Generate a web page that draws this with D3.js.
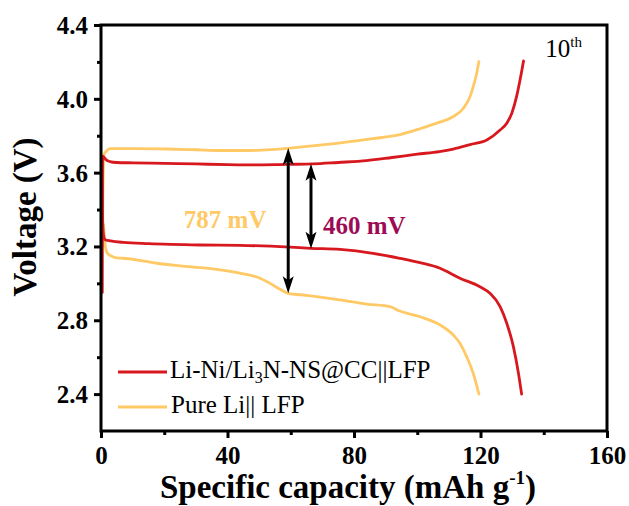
<!DOCTYPE html>
<html>
<head>
<meta charset="utf-8">
<script src="https://cdn.jsdelivr.net/npm/d3@7"></script>
<style>
  html, body { margin: 0; padding: 0; background: #fff; }
  svg { display: block; }
  text { font-family: "Liberation Serif", "Times New Roman", serif; }
</style>
</head>
<body>
<script>
// Galvanostatic charge/discharge profiles, 10th cycle, full cells vs LFP.

// Li-Ni/Li3N-NS@CC || LFP : charge branch (capacity, voltage)
const niChargeCap = [0.4, 0.45, 0.5, 0.9, 1.6, 2.8, 5, 10, 20, 30, 40, 47, 59, 67, 75, 84, 92, 100, 107, 111.4, 116.7, 122, 126.2, 128.3, 129.9, 131.4, 132.5, 133.6];
const niChargeV   = [2.95, 3.40, 3.69, 3.685, 3.67, 3.66, 3.655, 3.653, 3.65, 3.647, 3.643, 3.642, 3.645, 3.647, 3.655, 3.665, 3.682, 3.700, 3.714, 3.728, 3.752, 3.777, 3.831, 3.868, 3.922, 4.012, 4.102, 4.205];
// Li-Ni/Li3N-NS@CC || LFP : discharge branch
const niDischCap = [0.3, 0.6, 1.0, 1.5, 3, 7, 15, 31.3, 44, 59.8, 66.4, 75.6, 86, 94.5, 100.9, 107.2, 113.5, 119.8, 123, 126.2, 128.3, 130.4, 132, 133];
const niDischV   = [3.55, 3.30, 3.245, 3.235, 3.23, 3.222, 3.215, 3.208, 3.206, 3.196, 3.19, 3.184, 3.163, 3.136, 3.112, 3.082, 3.028, 2.982, 2.946, 2.874, 2.784, 2.657, 2.513, 2.40];

// Pure Li || LFP : charge branch
const liChargeCap = [0.5, 0.6, 1.0, 1.6, 2.8, 10, 20.8, 30, 37.6, 47, 54, 59.8, 70, 78.7, 86, 94.5, 100.9, 106.2, 111.4, 114.6, 116.7, 117.7, 118.8, 119.5];
const liChargeV   = [3.20, 3.50, 3.70, 3.714, 3.73, 3.73, 3.728, 3.724, 3.72, 3.72, 3.725, 3.733, 3.75, 3.768, 3.784, 3.806, 3.838, 3.868, 3.904, 3.949, 4.012, 4.066, 4.139, 4.202];
// Pure Li || LFP : discharge branch
const liDischCap = [0.8, 1.3, 1.8, 3, 5, 7, 12, 17.6, 25, 33.4, 43.9, 50.3, 53.4, 56.6, 59.2, 65, 75.6, 84, 91.4, 94.5, 100.9, 107.2, 111.4, 113.5, 115.6, 117.7, 119.5];
const liDischV   = [3.32, 3.21, 3.17, 3.15, 3.138, 3.136, 3.125, 3.109, 3.095, 3.082, 3.055, 3.028, 3.0, 2.968, 2.946, 2.935, 2.91, 2.888, 2.874, 2.85, 2.819, 2.775, 2.72, 2.675, 2.603, 2.513, 2.40];

// Axis ticks
const xMajorTicks = [0, 40, 80, 120, 160];
const xMinorTicks = [20, 60, 100, 140];
const yMajorTicks = [2.4, 2.8, 3.2, 3.6, 4.0, 4.4];
const yMinorTicks = [2.6, 3.0, 3.4, 3.8, 4.2];

// Polarization annotations: capacity, upper voltage, gap (V)
const gapLabels = ["787 mV", "460 mV"];
const gapCap    = [59.2, 66.4];
const gapTopV   = [3.733, 3.648];
const gapSize   = [0.787, 0.460];

const seriesNames = ["Li-Ni/Li3N-NS@CC||LFP", "Pure Li|| LFP"];
const RED = "#D7191F", YEL = "#FFC966";

const W = 629, H = 506;
const m = { left: 101, right: 22, top: 25, bottom: 75 };
const iw = W - m.left - m.right, ih = H - m.top - m.bottom;

const svg = d3.select("body").append("svg").attr("width", W).attr("height", H);
const g = svg.append("g").attr("transform", `translate(${m.left},${m.top})`);

const x = d3.scaleLinear().domain([0, 160]).range([0, iw]);
const y = d3.scaleLinear().domain([2.2, 4.4]).range([ih, 0]);

// Axes: major + minor ticks, pointing outward
function styleAxis(sel) {
  sel.select(".domain").remove();
  sel.selectAll(".tick line").attr("stroke", "#000").attr("stroke-width", 3);
  sel.selectAll(".tick text").attr("fill", "#000")
    .style("font-family", '"Liberation Serif", serif').style("font-weight", "bold").style("font-size", "25px");
}
g.append("g").attr("transform", `translate(0,${ih})`)
  .call(d3.axisBottom(x).tickValues(xMajorTicks).tickSize(7).tickFormat(d3.format("d")))
  .call(styleAxis)
  .call(s => s.selectAll(".tick text").attr("y", 33).attr("dy", 0));
g.append("g").attr("transform", `translate(0,${ih})`)
  .call(d3.axisBottom(x).tickValues(xMinorTicks).tickSize(4).tickFormat(""))
  .call(styleAxis);
g.append("g")
  .call(d3.axisLeft(y).tickValues(yMajorTicks).tickSize(7).tickFormat(d3.format(".1f")))
  .call(styleAxis)
  .call(s => s.selectAll(".tick text").attr("x", -13).attr("dy", "0.34em"));
g.append("g")
  .call(d3.axisLeft(y).tickValues(yMinorTicks).tickSize(4).tickFormat(""))
  .call(styleAxis);

// Curves
const line = d3.line().curve(d3.curveMonotoneX).x(d => x(d[0])).y(d => y(d[1]));
const zip = (a, b) => a.map((v, i) => [v, b[i]]);
const curves = [
  { c: YEL, d: zip(liChargeCap, liChargeV) },
  { c: YEL, d: zip(liDischCap, liDischV) },
  { c: RED, d: zip(niChargeCap, niChargeV) },
  { c: RED, d: zip(niDischCap, niDischV) }
];
g.selectAll("path.curve").data(curves).join("path")
  .attr("class", "curve")
  .attr("d", d => line(d.d))
  .attr("fill", "none").attr("stroke", d => d.c)
  .attr("stroke-width", 2.8).attr("stroke-linejoin", "round").attr("stroke-linecap", "round");

// Frame
g.append("rect").attr("x", 0).attr("y", 0).attr("width", iw).attr("height", ih)
  .attr("fill", "none").attr("stroke", "#000").attr("stroke-width", 3);

// Double-headed arrows marking the voltage gaps
const headL = 17, headW = 5.5;
gapCap.forEach((c, i) => {
  const px = x(c), y1 = y(gapTopV[i]), y2 = y(gapTopV[i] - gapSize[i]);
  g.append("line").attr("x1", px).attr("x2", px).attr("y1", y1 + 6).attr("y2", y2 - 6)
    .attr("stroke", "#000").attr("stroke-width", 3);
  g.append("path").attr("fill", "#000")
    .attr("d", `M${px},${y1} L${px + headW},${y1 + headL} L${px},${y1 + headL - 4} L${px - headW},${y1 + headL} Z`);
  g.append("path").attr("fill", "#000")
    .attr("d", `M${px},${y2} L${px + headW},${y2 - headL} L${px},${y2 - headL + 4} L${px - headW},${y2 - headL} Z`);
});

// Gap labels
g.append("text").attr("x", x(26.2)).attr("y", y(3.298))
  .attr("fill", "#FFC966").style("font-weight", "bold").style("font-size", "25px")
  .text(gapLabels[0]);
g.append("text").attr("x", x(70.2)).attr("y", y(3.265))
  .attr("fill", "#9E0B55").style("font-weight", "bold").style("font-size", "25px")
  .text(gapLabels[1]);

// Cycle tag
const tag = g.append("text").attr("x", x(140.5)).attr("y", 32).style("font-size", "25px");
tag.append("tspan").text("10");
tag.append("tspan").attr("dy", -10).style("font-size", "15px").text("th");

// Legend
const legend = g.append("g");
[RED, YEL].forEach((c, i) => {
  const ly = 347 + i * 35;
  legend.append("line").attr("x1", 17).attr("x2", 66).attr("y1", ly).attr("y2", ly)
    .attr("stroke", c).attr("stroke-width", 3);
});
const l1 = legend.append("text").attr("x", 69).attr("y", 353).style("font-size", "25px");
l1.append("tspan").text("Li-Ni/Li");
l1.append("tspan").attr("dy", 5).style("font-size", "16px").text("3");
l1.append("tspan").attr("dy", -5).text("N-NS@CC||LFP");
legend.append("text").attr("x", 70).attr("y", 388).style("font-size", "25px").text(seriesNames[1]);

// Axis titles
const xt = svg.append("text").attr("x", 348).attr("y", 498).attr("text-anchor", "middle")
  .style("font-weight", "bold").style("font-size", "33px");
xt.append("tspan").text("Specific capacity (mAh g");
xt.append("tspan").attr("dy", -14).style("font-size", "19px").text("-1");
xt.append("tspan").attr("dy", 14).text(")");

svg.append("text").attr("transform", "translate(36,217) rotate(-90)").attr("text-anchor", "middle")
  .style("font-weight", "bold").style("font-size", "33px").text("Voltage (V)");
</script>
</body>
</html>
